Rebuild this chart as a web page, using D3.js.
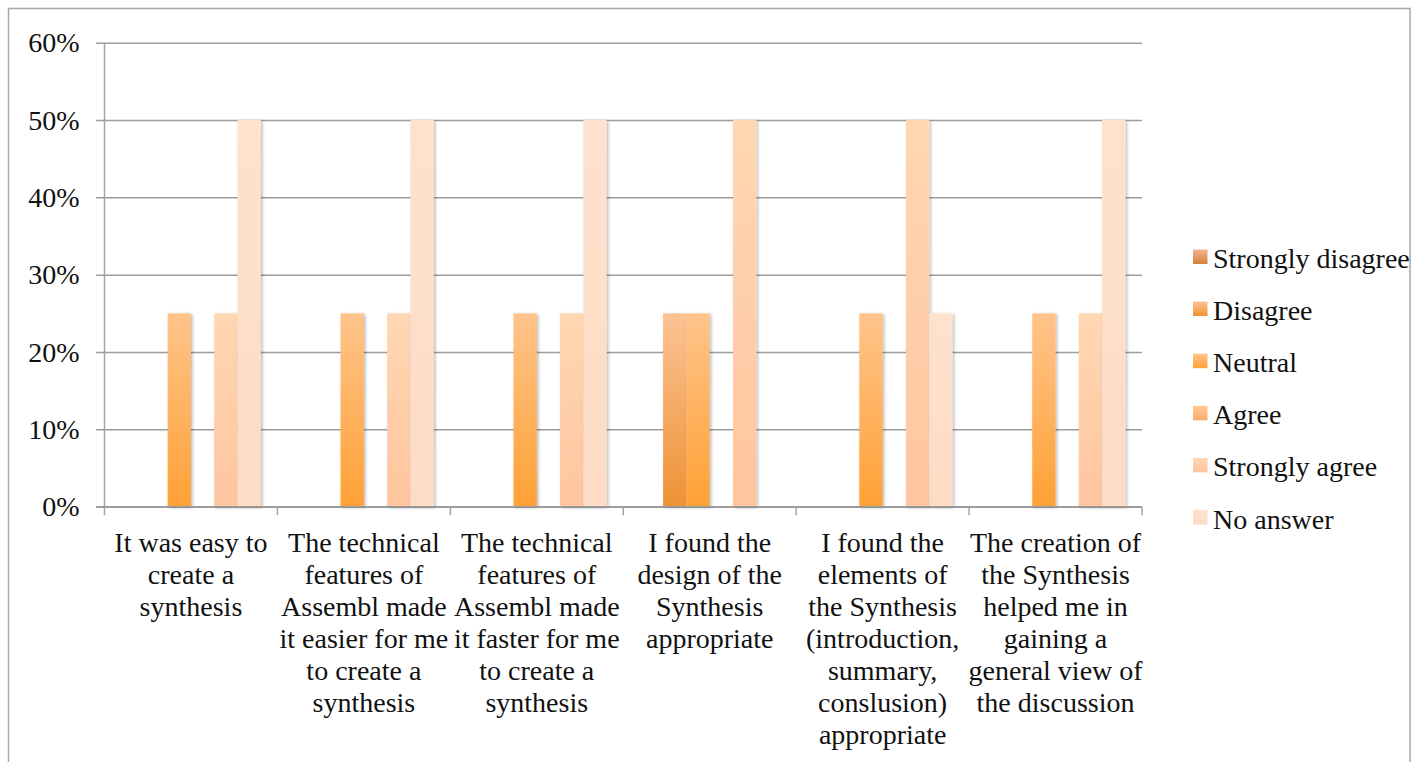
<!DOCTYPE html>
<html>
<head>
<meta charset="utf-8">
<script src="https://cdn.jsdelivr.net/npm/d3@7/dist/d3.min.js"></script>
<style>
  html, body { margin: 0; padding: 0; background: #fff; }
  svg { display: block; }
  text { font-family: "Liberation Serif", "Times New Roman", serif; fill: #111; }
</style>
</head>
<body>
<svg id="chart" width="1421" height="762"></svg>
<script>
// Survey answers about the Synthesis feature, share of respondents per answer
const categories = [
  "It was easy to create a synthesis",
  "The technical features of Assembl made it easier for me to create a synthesis",
  "The technical features of Assembl made it faster for me to create a synthesis",
  "I found the design of the Synthesis appropriate",
  "I found the elements of the Synthesis (introduction, summary, conslusion) appropriate",
  "The creation of the Synthesis helped me in gaining a general view of the discussion"
];
// Category labels broken into the lines they are printed on
const categoryLines = [
  ["It was easy to", "create a", "synthesis"],
  ["The technical", "features of", "Assembl made", "it easier for me", "to create a", "synthesis"],
  ["The technical", "features of", "Assembl made", "it faster for me", "to create a", "synthesis"],
  ["I found the", "design of the", "Synthesis", "appropriate"],
  ["I found the", "elements of", "the Synthesis", "(introduction,", "summary,", "conslusion)", "appropriate"],
  ["The creation of", "the Synthesis", "helped me in", "gaining a", "general view of", "the discussion"]
];
const seriesNames = ["Strongly disagree", "Disagree", "Neutral", "Agree", "Strongly agree", "No answer"];
const stronglyDisagree = [0, 0, 0, 0, 0, 0];
const disagree         = [0, 0, 0, 0.25, 0, 0];
const neutral          = [0.25, 0.25, 0.25, 0.25, 0.25, 0.25];
const agree            = [0, 0, 0, 0, 0, 0];
const stronglyAgree    = [0.25, 0.25, 0.25, 0.5, 0.5, 0.25];
const noAnswer         = [0.5, 0.5, 0.5, 0, 0.25, 0.5];
const yTicks = [0, 0.1, 0.2, 0.3, 0.4, 0.5, 0.6];

const seriesValues = [stronglyDisagree, disagree, neutral, agree, stronglyAgree, noAnswer];
// gradient colours (top, bottom) for each answer
const seriesColors = [
  ["#efb791", "#d8803a"],
  ["#fcc294", "#ef9235"],
  ["#ffc48a", "#ffa136"],
  ["#ffc996", "#fbae6c"],
  ["#ffd7b2", "#fec59f"],
  ["#fee2ce", "#fddbc5"]
];

const FONT_SIZE = "28px";

const svg = d3.select("#chart");
const defs = svg.append("defs");

seriesColors.forEach((c, i) => {
  const g = defs.append("linearGradient")
    .attr("id", "grad" + i).attr("x1", 0).attr("y1", 0).attr("x2", 0).attr("y2", 1);
  g.append("stop").attr("offset", "0%").attr("stop-color", c[0]);
  g.append("stop").attr("offset", "100%").attr("stop-color", c[1]);
});

const shadow = defs.append("filter").attr("id", "barShadow")
  .attr("x", "-30%").attr("y", "-10%").attr("width", "160%").attr("height", "120%");
shadow.append("feDropShadow")
  .attr("dx", 1.5).attr("dy", 1).attr("stdDeviation", 1.8)
  .attr("flood-color", "#000").attr("flood-opacity", 0.28);

// outer frame
svg.append("rect")
  .attr("x", 8.5).attr("y", 8.5).attr("width", 1401.5).attr("height", 800)
  .attr("fill", "none").attr("stroke", "#a8a8a8").attr("stroke-width", 1.5);

const plot = { left: 104.5, right: 1142, top: 42.7, bottom: 506.7 };

const x0 = d3.scaleBand()
  .domain(d3.range(categories.length))
  .range([plot.left, plot.right])
  .paddingInner(0).paddingOuter(0);

const x1 = d3.scaleBand()
  .domain(d3.range(seriesNames.length))
  .range([0, x0.bandwidth()])
  .paddingInner(0).paddingOuter(0.71);

const y = d3.scaleLinear().domain([0, 0.6]).range([plot.bottom, plot.top]);

// horizontal gridlines with left ticks
const yAxis = d3.axisLeft(y)
  .tickValues(yTicks)
  .tickSize(-(plot.right - plot.left))
  .tickFormat(d3.format(".0%"));

const yG = svg.append("g").attr("transform", `translate(${plot.left},0)`).call(yAxis);
yG.select(".domain").remove();
yG.selectAll(".tick line")
  .attr("x1", -8.5)
  .attr("stroke", "#9c9c9c").attr("stroke-width", 1.5);
yG.selectAll(".tick text")
  .attr("x", -25).attr("dy", "0.32em")
  .style("font-family", '"Liberation Serif", serif')
  .style("font-size", FONT_SIZE).attr("fill", "#111");

// vertical axis line
svg.append("line")
  .attr("x1", plot.left).attr("x2", plot.left)
  .attr("y1", plot.top).attr("y2", plot.bottom + 8.5)
  .attr("stroke", "#a4a4a4").attr("stroke-width", 1.5);

// bars
const groups = svg.append("g").selectAll("g")
  .data(categories)
  .join("g")
  .attr("transform", (d, i) => `translate(${x0(i)},0)`);

groups.selectAll("rect")
  .data((d, ci) => seriesValues.map((vals, si) => ({ si, v: vals[ci] })).filter(e => e.v > 0))
  .join("rect")
  .attr("x", e => x1(e.si))
  .attr("width", x1.bandwidth())
  .attr("y", e => y(e.v))
  .attr("height", e => y(0) - y(e.v))
  .attr("fill", e => `url(#grad${e.si})`)
  .attr("filter", "url(#barShadow)");

// category axis
svg.append("line")
  .attr("x1", plot.left - 8.5).attr("x2", plot.right)
  .attr("y1", plot.bottom).attr("y2", plot.bottom)
  .attr("stroke", "#9c9c9c").attr("stroke-width", 1.5);

const boundaries = d3.range(categories.length + 1).map(i =>
  i < categories.length ? x0(i) : x0(i - 1) + x0.bandwidth());
svg.append("g").selectAll("line")
  .data(boundaries.slice(1))
  .join("line")
  .attr("x1", d => d).attr("x2", d => d)
  .attr("y1", plot.bottom).attr("y2", plot.bottom + 8.5)
  .attr("stroke", "#a4a4a4").attr("stroke-width", 1.5);

// category labels
const labels = svg.append("g").selectAll("text")
  .data(categoryLines)
  .join("text")
  .attr("text-anchor", "middle")
  .style("font-size", FONT_SIZE)
  .attr("x", (d, i) => x0(i) + x0.bandwidth() / 2)
  .attr("y", 552);

labels.selectAll("tspan")
  .data(d => d)
  .join("tspan")
  .attr("x", function () { return this.parentNode.getAttribute("x"); })
  .attr("dy", (d, i) => i === 0 ? 0 : 32)
  .text(d => d);

// legend
const legend = svg.append("g").selectAll("g")
  .data(seriesNames)
  .join("g")
  .attr("transform", (d, i) => `translate(1193,${249.5 + i * 52.1})`);

legend.append("rect")
  .attr("width", 14.5).attr("height", 14.5)
  .attr("fill", (d, i) => `url(#grad${i})`);

legend.append("text")
  .attr("x", 20).attr("y", 18.5)
  .style("font-size", FONT_SIZE)
  .text(d => d);
</script>
</body>
</html>
